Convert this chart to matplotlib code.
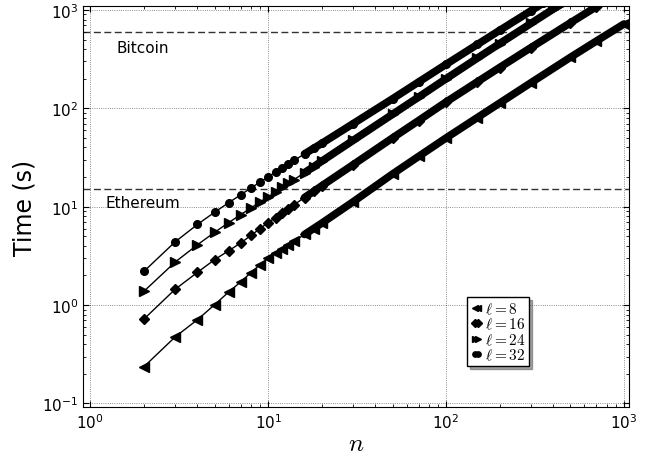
import matplotlib
matplotlib.use('Agg')
import matplotlib.pyplot as plt

# valores (tiempo en segundos)
n_l8 = [2, 3, 4, 5, 6, 7, 8, 9, 10, 11, 12, 13, 14, 16, 18, 20, 30, 50, 70, 100, 150, 200, 300, 500, 700, 1000]
t_l8 = [0.236, 0.475, 0.71, 1.01, 1.36, 1.72, 2.14, 2.58, 3.0, 3.35, 3.72, 4.1, 4.46, 5.22, 6.0, 6.8,
        11.2, 21.5, 32.4, 50, 80.6, 113, 182, 330, 483, 720]

n_l16 = [2, 3, 4, 5, 6, 7, 8, 9, 10, 11, 12, 13, 14, 16, 18, 20, 30, 50, 70, 100, 150, 200, 300, 500, 700, 800]
t_l16 = [0.72, 1.45, 2.15, 2.9, 3.57, 4.28, 5.1, 6.0, 6.9, 7.75, 8.65, 9.55, 10.5, 12.4, 14.3, 16.3,
         26.7, 50, 75, 116, 186, 260, 414, 740, 1080, 1254]

n_l24 = [2, 3, 4, 5, 6, 7, 8, 9, 10, 11, 12, 13, 14, 16, 18, 20, 30, 50, 70, 100, 150, 200, 300, 400, 450]
t_l24 = [1.38, 2.74, 4.1, 5.5, 6.9, 8.3, 9.7, 11.2, 12.6, 14.1, 15.7, 17.3, 18.9, 22.2, 25.5, 29,
         47.2, 87, 130, 200, 324, 455, 730, 1020, 1160]

n_l32 = [2, 3, 4, 5, 6, 7, 8, 9, 10, 11, 12, 13, 14, 16, 18, 20, 30, 50, 70, 100, 150, 200, 300, 350]
t_l32 = [2.2, 4.4, 6.6, 8.8, 11, 13.2, 15.5, 17.8, 20.2, 22.5, 24.8, 27.2, 29.6, 34.4, 39.2, 44,
         69.8, 125, 185, 280, 446, 620, 980, 1170]

series = [
    (n_l8, t_l8, '<', 6.5, r'$\ell=8$'),
    (n_l16, t_l16, 'D', 5.5, r'$\ell=16$'),
    (n_l24, t_l24, '>', 6.5, r'$\ell=24$'),
    (n_l32, t_l32, 'o', 5.5, r'$\ell=32$'),
]

bitcoin_t = 600
ethereum_t = 15

plt.rcParams['mathtext.fontset'] = 'cm'
plt.rcParams['xtick.direction'] = 'in'
plt.rcParams['ytick.direction'] = 'in'
plt.rcParams['xtick.top'] = True
plt.rcParams['ytick.right'] = True

fig = plt.figure(figsize=(6.54, 4.6), dpi=100)
ax = fig.add_axes([0.127, 0.113, 0.835, 0.872])

for n, t, m, ms, lab in series:
    ax.plot(n, t, '-', color='k', lw=1, marker=m, ms=ms, mec='k', mfc='k', label=lab)
    # donde los marcadores se solapan se ve una banda gruesa
    dn = [x for x in n if x >= 16]
    dt = [y for x, y in zip(n, t) if x >= 16]
    ax.plot(dn, dt, '-', color='k', lw=5.5, solid_capstyle='round')

ax.axhline(bitcoin_t, color='k', ls='--', dashes=(5, 2.5), lw=1, alpha=0.8)
ax.axhline(ethereum_t, color='k', ls='--', dashes=(5, 2.5), lw=1, alpha=0.8)
ax.text(1.4, 375, 'Bitcoin', fontsize=11)
ax.text(1.22, 10, 'Ethereum', fontsize=11)

ax.set_xscale('log')
ax.set_yscale('log')
ax.set_xlim(0.91, 1070)
ax.set_ylim(0.092, 1100)
ax.grid(True, which='major', color='k', ls=':', lw=0.6, alpha=0.6)
ax.tick_params(which='major', length=4, labelsize=11)
ax.tick_params(which='minor', length=2)
ax.set_xlabel('$n$', fontsize=18, labelpad=0)
ax.set_ylabel('Time (s)', fontsize=17)

leg = ax.legend(loc='upper left', bbox_to_anchor=(0.703, 0.274), borderaxespad=0,
                fontsize=11, numpoints=2, markerscale=0.7, handlelength=0.8,
                handletextpad=0.1, labelspacing=0.0, borderpad=0.25,
                shadow=True, fancybox=False, framealpha=1)
leg.get_frame().set_edgecolor('k')

fig.savefig('out.png', dpi=100)
